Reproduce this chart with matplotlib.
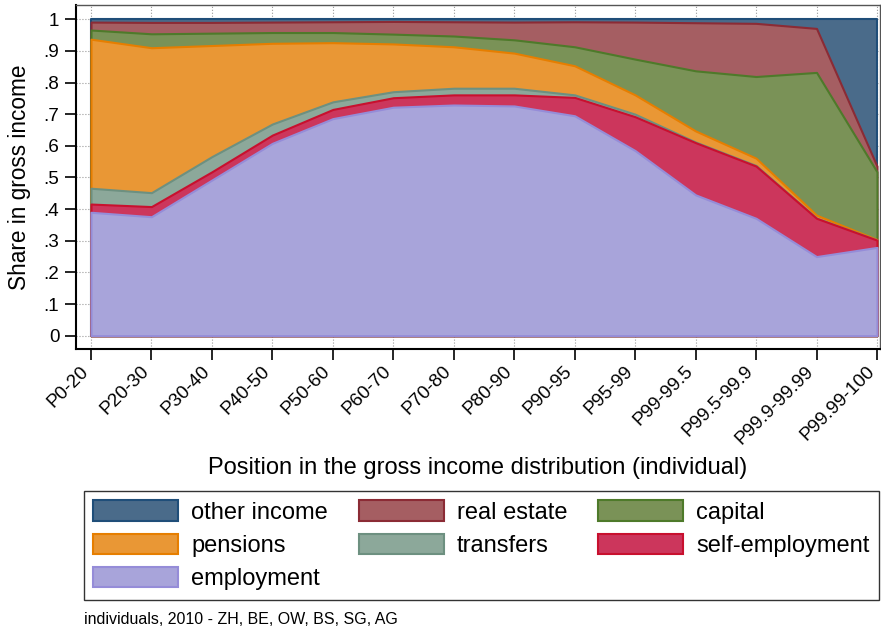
import numpy as np
import matplotlib.pyplot as plt
import matplotlib.transforms as mtransforms
from matplotlib.patches import Patch

plt.rcParams['font.family'] = ['Liberation Sans', 'DejaVu Sans']

# ── DATA (shares per income source) ─────────────────────────────────────
groups = ["P0-20", "P20-30", "P30-40", "P40-50", "P50-60", "P60-70", "P70-80",
          "P80-90", "P90-95", "P95-99", "P99-99.5", "P99.5-99.9",
          "P99.9-99.99", "P99.99-100"]

# bottom to top
employment      = [0.390, 0.376, 0.492, 0.608, 0.686, 0.722, 0.729, 0.726, 0.695, 0.585, 0.445, 0.371, 0.250, 0.279]
self_employment = [0.026, 0.032, 0.026, 0.026, 0.029, 0.030, 0.032, 0.035, 0.058, 0.107, 0.165, 0.165, 0.121, 0.023]
transfers       = [0.050, 0.044, 0.048, 0.035, 0.024, 0.019, 0.021, 0.021, 0.008, 0.008, 0.002, 0.002, 0.001, 0.000]
pensions        = [0.471, 0.458, 0.351, 0.255, 0.187, 0.151, 0.131, 0.111, 0.092, 0.061, 0.035, 0.023, 0.009, 0.002]
capital         = [0.029, 0.044, 0.039, 0.034, 0.032, 0.031, 0.034, 0.042, 0.060, 0.113, 0.190, 0.258, 0.451, 0.214]
real_estate     = [0.025, 0.036, 0.034, 0.033, 0.034, 0.040, 0.045, 0.056, 0.079, 0.117, 0.152, 0.168, 0.139, 0.018]
other_income    = [0.009, 0.010, 0.010, 0.009, 0.008, 0.007, 0.008, 0.009, 0.008, 0.009, 0.011, 0.013, 0.029, 0.464]

labels = ["employment", "self-employment", "transfers", "pensions",
          "capital", "real estate", "other income"]
fills = ["#a8a4da", "#cc365c", "#8ca89a", "#e99735", "#7a9257", "#a55e62", "#4a6b8a"]
edges = ["#958cd8", "#c8102e", "#6d9080", "#e67e00", "#4e7a2a", "#8b2b35", "#1f4e79"]

series = [employment, self_employment, transfers, pensions, capital, real_estate, other_income]
cum = np.cumsum(np.array(series), axis=0)
x = np.arange(len(groups))

fig = plt.figure(figsize=(8.81, 6.35), dpi=100)
ax = fig.add_axes([76 / 881, 1 - 349.3 / 635, 804 / 881, 344.3 / 635])

# stata-style: every layer drawn from 0 to its cumulative top, largest first
for i in reversed(range(len(series))):
    ax.fill_between(x, 0, cum[i], facecolor=fills[i], edgecolor=edges[i],
                    linewidth=1.5, zorder=2)

ax.set_xlim(-0.248, 13.05)
ax.set_ylim(-0.043, 1.045)
ax.set_yticks(np.arange(0, 1.01, 0.1))
ax.set_yticklabels(["0", ".1", ".2", ".3", ".4", ".5", ".6", ".7", ".8", ".9", "1"])
ax.set_xticks(x)
ax.set_xticklabels(groups, rotation=45, ha="right", va="center", rotation_mode="anchor")
ax.tick_params(axis="both", labelsize=13.6, length=8, width=1.2, color="black")
ax.tick_params(axis="x", pad=6)
ax.tick_params(axis="y", pad=4)
# nudge rotated labels a little left so the last one stays inside the figure
shift = mtransforms.ScaledTranslation(-5 / 100, 0, fig.dpi_scale_trans)
for lab in ax.get_xticklabels():
    lab.set_transform(lab.get_transform() + shift)
ax.grid(True, linestyle=":", color="#9a9a9a", linewidth=0.8, zorder=0)
ax.set_axisbelow(True)

for s in ["left", "bottom"]:
    ax.spines[s].set_linewidth(1.5)
    ax.spines[s].set_color("black")
for s in ["top", "right"]:
    ax.spines[s].set_linewidth(1.0)
    ax.spines[s].set_color("#555555")

ax.set_ylabel("Share in gross income", fontsize=16.3, labelpad=9)
ax.set_xlabel("Position in the gross income distribution (individual)", fontsize=17, labelpad=7)

# legend, filled row by row like the original
order = [6, 3, 0, 5, 2, 4, 1]
handles = [Patch(facecolor=fills[i], edgecolor=edges[i], linewidth=1.5) for i in order]
leg = fig.legend(handles, [labels[i] for i in order], loc="upper left",
                 bbox_to_anchor=(84 / 881, 1 - 491 / 635), ncol=3, fontsize=17,
                 frameon=True, fancybox=False, edgecolor="black",
                 handlelength=3.6, handleheight=0.95, handletextpad=0.55,
                 columnspacing=1.3, labelspacing=0.42, borderpad=0.4,
                 borderaxespad=0)
leg.get_frame().set_linewidth(1.0)

fig.text(84 / 881, 1 - 620 / 635, "individuals, 2010 - ZH, BE, OW, BS, SG, AG",
         fontsize=11.5, va="center", ha="left")

fig.savefig("out.png", dpi=100)
